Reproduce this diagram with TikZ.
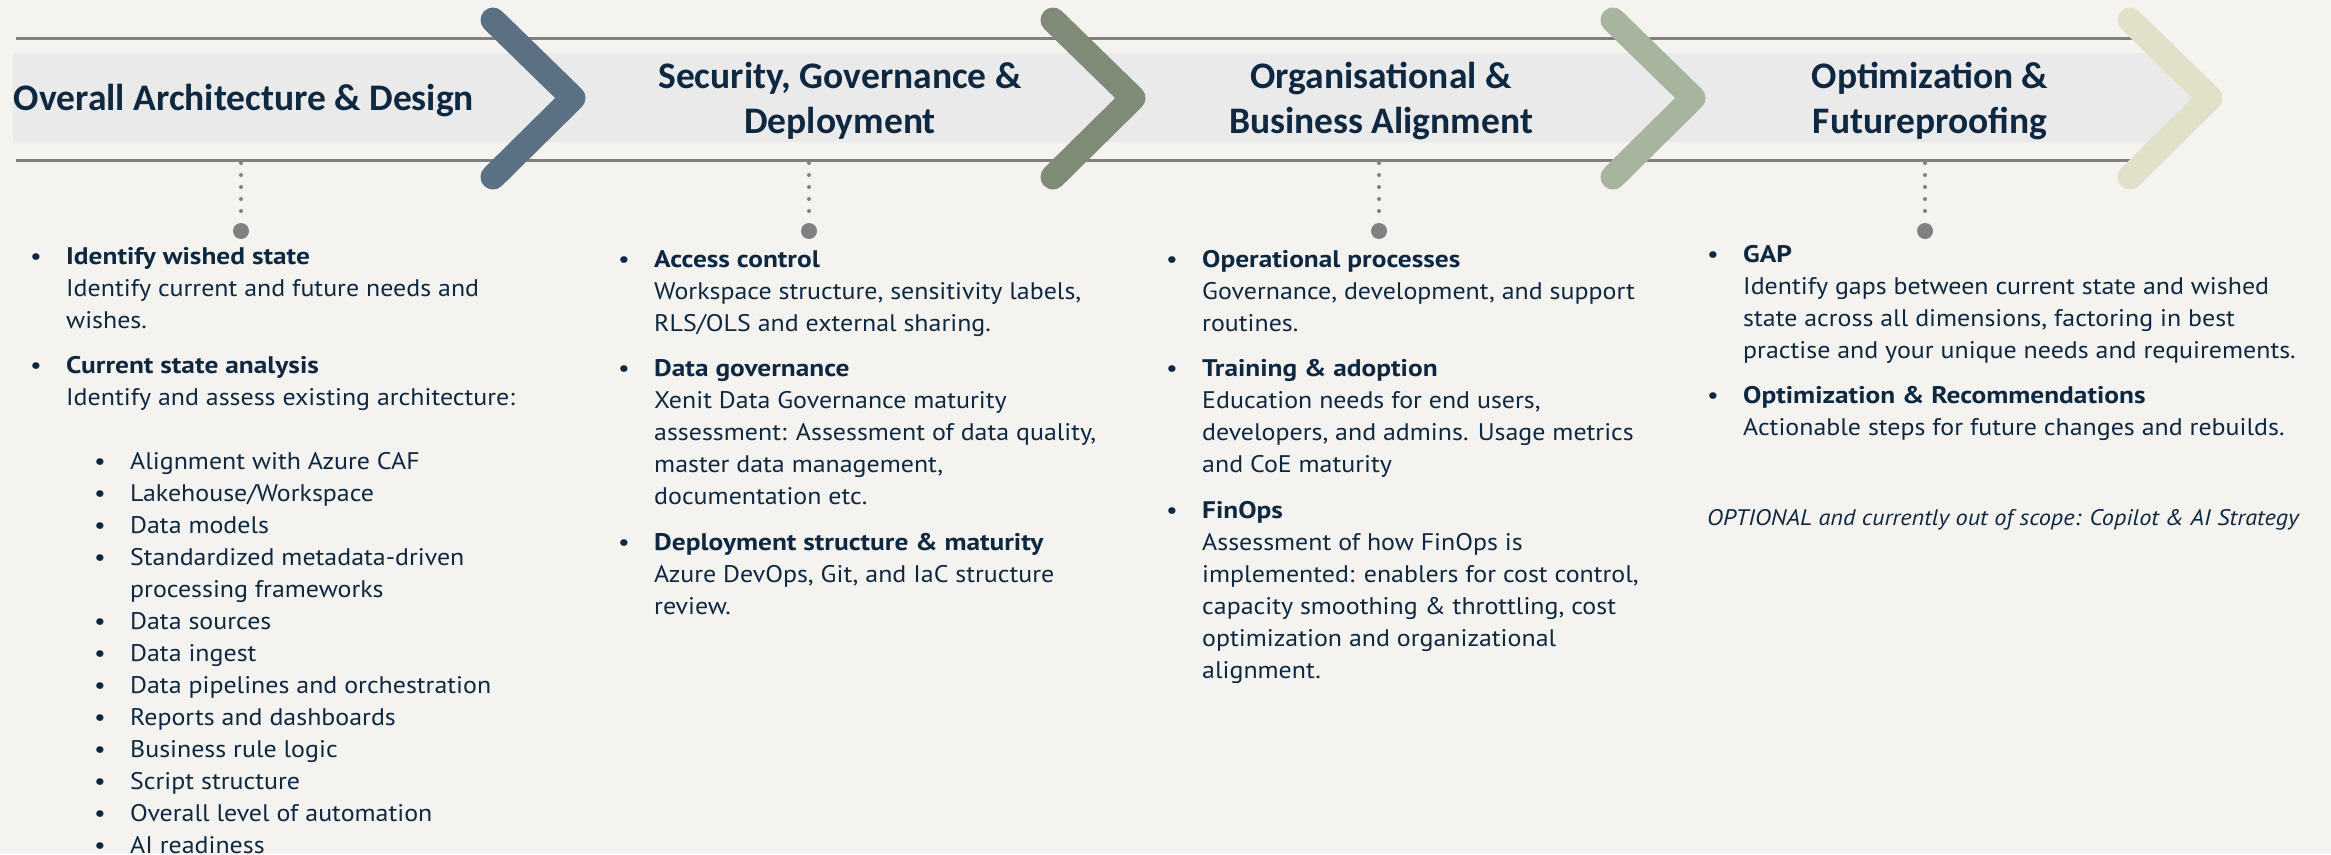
\documentclass[tikz,border=0pt]{standalone}
\usepackage{fontspec}
\setmainfont{PT Sans}[FakeStretch=1.08]
\newfontfamily\boldfnt{PT Sans}[FakeStretch=1.14]
\newfontfamily\headfont{Carlito}
\usetikzlibrary{positioning}

\definecolor{navy}{HTML}{0E2841}
\definecolor{paper}{HTML}{F4F3F0}
\definecolor{bandgray}{HTML}{EAEAEA}
\definecolor{rulegray}{HTML}{808080}
\definecolor{chevA}{HTML}{5B7083}
\definecolor{chevB}{HTML}{7F8B77}
\definecolor{chevC}{HTML}{A7B59E}
\definecolor{chevD}{HTML}{E1E0C8}

\newcommand{\subbul}{\hspace*{28pt}\makebox[36pt][l]{\textbullet}}
\newcommand{\itemhd}[1]{{\boldfnt\bfseries #1}}

\tikzset{
  headtxt/.style={font=\headfont\bfseries\fontsize{37.5}{45}\selectfont, text=navy, align=center, inner sep=0pt, anchor=base},
  coltxt/.style={font=\fontsize{24}{32}\selectfont, text=navy, inner sep=0pt, anchor=base west},
  chev/.style={line width=25pt, line cap=round, line join=round},
  lineh/.style={rulegray, line width=3pt},
  dotline/.style={rulegray, line width=4pt, line cap=round, dash pattern=on 0pt off 12pt},
  pindot/.style={circle, fill=rulegray, inner sep=0pt, minimum size=16pt},
}

\begin{document}
\begin{tikzpicture}[x=1pt,y=-1pt]
\useasboundingbox[fill=paper] (0,0) rectangle (2331,854);
% band and the two rules
\fill[bandgray] (13,53) -- (2163,53) -- (2208,98) -- (2163,142) -- (13,142) -- cycle;
\draw[lineh] (16,38) -- (2150,38);
\draw[lineh] (16,160) -- (2150,160);
% chevrons
\foreach \x/\c in {493/chevA,1053/chevB,1613/chevC,2130/chevD}
\draw[chev,\c] (\x,20) -- ++(80,78) -- ++(-80,79);

% phase titles (base = last line)
\node[headtxt] (h1) at (244,110) {Overall Architecture \& Design};
\node[headtxt] (h2) at (840,133) {Security, Governance \&\\Deployment};
\node[headtxt] (h3) at (1381,133) {Organisational \&\\Business Alignment};
\node[headtxt] (h4) at (1930,133) {Optimization \&\\Futureproofing};

% pins below the band
\foreach \x [count=\i] in {241,809,1379,1925} {
  \coordinate (t\i) at (\x,163);
  \node[pindot] (d\i) at (\x,231) {};
  \draw[dotline] (t\i) -- (d\i);
}

% column 1
\node[coltxt] (c1) at (30,264) {\begin{tabular}[t]{@{}p{36pt}@{}l@{}}
\textbullet & \itemhd{Identify wished state}\\
 & Identify current and future needs and\\
 & wishes.\\[13.5pt]
\textbullet & \itemhd{Current state analysis}\\
 & Identify and assess existing architecture:\\
 & \\
 & \subbul Alignment with Azure CAF\\
 & \subbul Lakehouse/Workspace\\
 & \subbul Data models\\
 & \subbul Standardized metadata-driven\\
 & \hspace*{64pt}processing frameworks\\
 & \subbul Data sources\\
 & \subbul Data ingest\\
 & \subbul Data pipelines and orchestration\\
 & \subbul Reports and dashboards\\
 & \subbul Business rule logic\\
 & \subbul Script structure\\
 & \subbul Overall level of automation\\
 & \subbul AI readiness
\end{tabular}};

% column 2
\node[coltxt] (c2) at (618,267) {\begin{tabular}[t]{@{}p{36pt}@{}l@{}}
\textbullet & \itemhd{Access control}\\
 & Workspace structure, sensitivity labels,\\
 & RLS/OLS and external sharing.\\[13.5pt]
\textbullet & \itemhd{Data governance}\\
 & Xenit Data Governance maturity\\
 & assessment: Assessment of data quality,\\
 & master data management,\\
 & documentation etc.\\[13.5pt]
\textbullet & \itemhd{Deployment structure \& maturity}\\
 & Azure DevOps, Git, and IaC structure\\
 & review.
\end{tabular}};

% column 3
\node[coltxt] (c3) at (1166,267) {\begin{tabular}[t]{@{}p{36pt}@{}l@{}}
\textbullet & \itemhd{Operational processes}\\
 & Governance, development, and support\\
 & routines.\\[13.5pt]
\textbullet & \itemhd{Training \& adoption}\\
 & Education needs for end users,\\
 & developers, and admins. Usage metrics\\
 & and CoE maturity\\[13.5pt]
\textbullet & \itemhd{FinOps}\\
 & Assessment of how FinOps is\\
 & implemented: enablers for cost control,\\
 & capacity smoothing \& throttling, cost\\
 & optimization and organizational\\
 & alignment.
\end{tabular}};

% column 4
\node[coltxt] (c4) at (1707,262) {\begin{tabular}[t]{@{}p{36pt}@{}l@{}}
\textbullet & \itemhd{GAP}\\
 & Identify gaps between current state and wished\\
 & state across all dimensions, factoring in best\\
 & practise and your unique needs and requirements.\\[13.5pt]
\textbullet & \itemhd{Optimization \& Recommendations}\\
 & Actionable steps for future changes and rebuilds.
\end{tabular}};
\node[coltxt, font=\fontsize{22.5}{32}\selectfont\itshape] (opt) at (1707,525) {OPTIONAL and currently out of scope: Copilot \& AI Strategy};
\end{tikzpicture}
\end{document}
